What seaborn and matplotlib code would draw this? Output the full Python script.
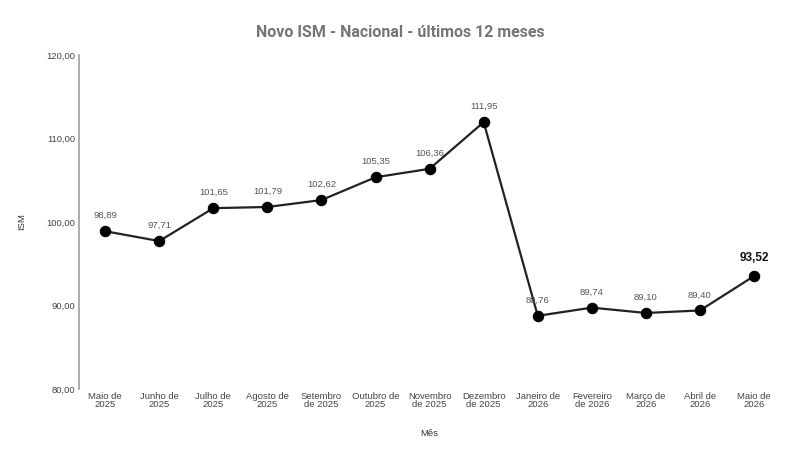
import matplotlib
matplotlib.use("Agg")
import matplotlib.pyplot as plt
import seaborn as sns
import pandas as pd

months = ["Maio de\n2025", "Junho de\n2025", "Julho de\n2025", "Agosto de\n2025",
          "Setembro\nde 2025", "Outubro de\n2025", "Novembro\nde 2025", "Dezembro\nde 2025",
          "Janeiro de\n2026", "Fevereiro\nde 2026", "Março de\n2026", "Abril de\n2026",
          "Maio de\n2026"]
ism = [98.89, 97.71, 101.65, 101.79, 102.62, 105.35, 106.36, 111.95,
       88.76, 89.74, 89.10, 89.40, 93.52]
yticks = [80, 90, 100, 110, 120]

sns.set_theme(style="white")
plt.rcParams['font.family'] = ['Liberation Sans', 'DejaVu Sans']

df = pd.DataFrame({"x": range(len(months)), "ism": ism})

fig = plt.figure(figsize=(8, 4.5), dpi=100)
ax = fig.add_axes([0.099, 0.1356, 0.876, 0.7424])
sns.lineplot(data=df, x="x", y="ism", ax=ax, color="#222222", linewidth=1.6,
             marker="o", markersize=7.5, markerfacecolor="black",
             markeredgecolor="black")

ax.set_xlim(-0.48, len(months) - 1 + 0.48)
ax.set_ylim(80, 120)
ax.set_yticks(yticks)
ax.set_yticklabels([f"{v:.2f}".replace(".", ",") for v in yticks],
                   fontsize=6.8, color="#444444")
ax.set_xticks(range(len(months)))
ax.set_xticklabels(months, fontsize=6.8, color="#444444", linespacing=0.9)
ax.tick_params(axis="both", length=0, pad=3)
ax.tick_params(axis="x", pad=2)

for s in ["top", "right", "bottom"]:
    ax.spines[s].set_visible(False)
ax.spines["left"].set_color("#9e9e9e")
ax.spines["left"].set_linewidth(1.2)

ax.set_xlabel("Mês", fontsize=6.8, color="#333333", labelpad=14)
ax.set_ylabel("ISM", fontsize=6.8, color="#333333", labelpad=14)

for i, v in enumerate(ism):
    last = i == len(ism) - 1
    ax.annotate(f"{v:.2f}".replace(".", ","), (i, v), xytext=(0, 8 if not last else 9),
                textcoords="offset points", ha="center", va="bottom",
                fontsize=8.5 if last else 6.8,
                color="#111111" if last else "#555555",
                fontweight="bold" if last else "normal")

fig.suptitle("Novo ISM - Nacional - últimos 12 meses", y=0.945, fontsize=11.5,
             fontweight="bold", color="#757575", family=['Roboto', 'DejaVu Sans'])

fig.savefig("out.png", dpi=100)
